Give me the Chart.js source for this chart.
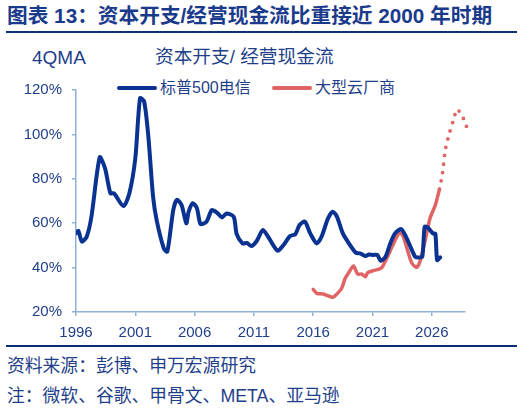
<!DOCTYPE html>
<html><head><meta charset="utf-8">
<script src="https://cdn.jsdelivr.net/npm/chart.js@4"></script>
<style>
html,body{margin:0;padding:0;background:#fff;width:527px;height:414px;overflow:hidden;font-family:"Liberation Sans","Noto Sans CJK SC",sans-serif;color:#1F3F8A;}
.abs{position:absolute;white-space:nowrap;line-height:1;}
#title{left:7px;top:6px;font-size:20.7px;font-weight:bold;color:#1A3A8C;}
.rule{position:absolute;left:6px;width:511px;height:2px;background:#0E2F73;}
#box{position:absolute;left:0;top:0;width:527px;height:340px;}
.leg{position:absolute;height:4px;border-radius:2px;}
</style></head><body>
<div id="title" class="abs">图表 13：资本开支/经营现金流比重接近 2000 年时期</div>
<div class="rule" style="top:31px"></div>
<div class="abs" style="left:32px;top:48px;font-size:19px;">4QMA</div>
<div class="abs" style="left:155px;top:48px;font-size:18.7px;">资本开支/ 经营现金流</div>
<div class="leg" style="left:117px;top:86px;width:40px;background:#0A3391"></div>
<div class="abs" style="left:160px;top:80px;font-size:16px;">标普500电信</div>
<div class="leg" style="left:272px;top:86px;width:40px;background:#E06464"></div>
<div class="abs" style="left:315px;top:80px;font-size:16px;">大型云厂商</div>
<div id="box"><canvas id="c"></canvas></div>
<div class="rule" style="top:345px"></div>
<div class="abs" style="left:7px;top:358px;font-size:17.8px;">资料来源：彭博、申万宏源研究</div>
<div class="abs" style="left:7px;top:388px;font-size:17.8px;">注：微软、谷歌、甲骨文、META、亚马逊</div>
<script>
const telecomYears = [1996.0,1996.2,1996.5,1996.9,1997.3,1998.0,1998.45,1998.9,1999.2,2000.0,2000.5,2001.0,2001.4,2001.75,2002.1,2002.5,2002.8,2003.4,2003.7,2004.2,2004.5,2004.9,2005.3,2005.5,2005.85,2006.2,2006.5,2007.0,2007.45,2007.9,2008.3,2008.7,2009.3,2009.55,2010.05,2010.4,2010.8,2011.25,2011.75,2012.2,2013.0,2013.5,2014.05,2014.5,2014.85,2015.3,2015.75,2016.3,2016.7,2017.25,2017.65,2018.0,2018.5,2019.05,2019.6,2019.95,2020.4,2020.7,2021.05,2021.4,2021.7,2022.1,2022.5,2022.9,2023.4,2023.75,2024.2,2024.6,2024.9,2025.2,2025.4,2025.65,2026.1,2026.3,2026.45,2026.7];
const telecomValues = [55.5,56.5,51.7,53.9,62.9,89.7,84.7,73.5,73.5,67.7,73.5,89.2,116.3,114.7,99,71.9,61.4,48.7,47.2,65.9,70.5,68.2,60,65.2,69,66.7,59.6,60.7,65.9,64.7,62.6,64.4,62.9,55.1,50.9,51.1,49.7,52.1,56.9,53.9,47.6,50.2,54.2,55.1,59.2,60.7,55.4,50.9,53.9,62.2,65.2,63,55.4,50.6,46.7,46.4,45.2,45.9,45.7,45.7,43.1,44.9,50.9,55.4,57.4,54.7,49.4,44.9,44.5,44.9,58.4,58.1,55.4,55.3,43.4,44.6];
const cloudYears = [2016.0,2016.3,2016.85,2017.3,2017.65,2018.05,2018.4,2018.7,2019.05,2019.4,2019.75,2020.1,2020.4,2020.6,2021.05,2021.5,2021.8,2022.2,2022.65,2023.05,2023.35,2023.6,2023.95,2024.3,2024.7,2025.0,2025.45,2025.85,2026.3,2026.65];
const cloudValues = [30.2,28.4,28.1,27.2,26.6,28.4,30.7,35.2,38.2,40.7,37.1,37.1,35.9,37.7,38.6,39.2,40.1,44.2,49.4,53.9,55.7,53.9,47.9,42.2,40.1,42.7,52.4,62.2,68.2,75.3];
const cloudForecastYears = [2026.65,2026.9,2027.15,2027.5,2027.9,2028.1,2028.4,2028.7,2028.95];
const cloudForecastValues = [75.3,82.5,93.3,100.8,107.7,111.3,109.8,106.8,103.2];
const xTicks = [1996,2001,2006,2011,2016,2021,2026];
const yTicks = [20,40,60,80,100,120];
const seriesNames = ['标普500电信','大型云厂商','大型云厂商（预测）'];

const pts = (xs, ys) => xs.map((x, i) => ({x: x, y: ys[i]}));
const blue = '#0A3391', red = '#E06464', axisCol = '#8FB2D4', txt = '#1F3F8A';

new Chart(document.getElementById('c'), {
  type: 'line',
  data: {datasets: [
    {label: seriesNames[0], data: pts(telecomYears, telecomValues), borderColor: blue, borderWidth: 4, pointRadius: 0, tension: 0.25, borderJoinStyle: 'round', borderCapStyle: 'round'},
    {label: seriesNames[1], data: pts(cloudYears, cloudValues), borderColor: red, borderWidth: 3.5, pointRadius: 0, tension: 0.25, borderJoinStyle: 'round', borderCapStyle: 'round'},
    {label: seriesNames[2], data: pts(cloudForecastYears, cloudForecastValues), borderColor: red, borderWidth: 3.8, pointRadius: 0, tension: 0.3, borderDash: [0, 8.5], borderCapStyle: 'round', clip: false}
  ]},
  options: {
    responsive: true, maintainAspectRatio: false, animation: false,
    layout: {padding: {top: 90, right: 62, bottom: 0, left: 0}},
    plugins: {legend: {display: false}, tooltip: {enabled: false}},
    scales: {
      x: {type: 'linear', min: 1996, max: 2028.8,
        afterBuildTicks: s => { s.ticks = xTicks.map(v => ({value: v})); },
        afterFit: s => { s.height = 28; },
        grid: {drawOnChartArea: false, drawTicks: true, tickLength: 4, color: axisCol, lineWidth: 1.5},
        border: {color: axisCol, width: 1.5},
        ticks: {color: txt, font: {family: 'Liberation Sans', size: 15}, padding: 8, maxRotation: 0, callback: v => String(v)}},
      y: {min: 20, max: 120,
        afterBuildTicks: s => { s.ticks = yTicks.map(v => ({value: v})); },
        afterFit: s => { s.width = 76; },
        grid: {drawOnChartArea: false, drawTicks: true, tickLength: 4, color: axisCol, lineWidth: 1.5},
        border: {color: axisCol, width: 1.5},
        ticks: {color: txt, font: {family: 'Liberation Sans', size: 15}, padding: 10, callback: v => v + '%'}}
    }
  }
});
</script>
</body></html>
